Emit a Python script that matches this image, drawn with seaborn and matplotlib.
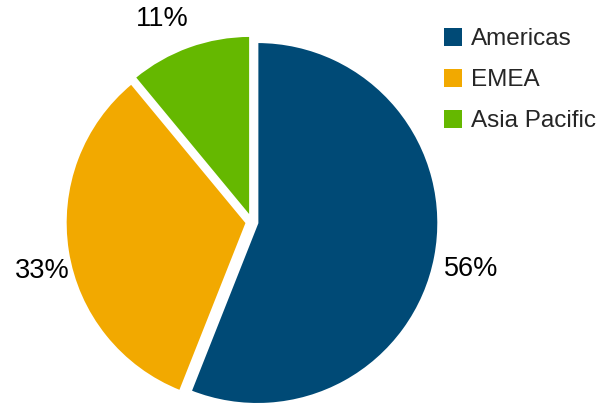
import matplotlib
matplotlib.use("Agg")
import matplotlib.pyplot as plt
import matplotlib.patches as mpatches
import matplotlib.transforms as mtransforms
import seaborn as sns

# Regional revenue split
regions = ["Americas", "EMEA", "Asia Pacific"]
shares = [56, 33, 11]
colors = ["#004A76", "#F2A900", "#65B800"]

sns.set_theme(style="white")
plt.rcParams["font.family"] = ["Liberation Sans", "DejaVu Sans"]
palette = sns.color_palette(colors)

W, H = 598, 408
fig = plt.figure(figsize=(W / 100, H / 100), dpi=100)
fig.patch.set_facecolor("white")

# Pie centre and radius in pixels; axes sized so one data unit = radius
cx, cy, r = 252, H - 222, 181
lim = 1.25
half = lim * r
ax = fig.add_axes([(cx - half) / W, (cy - half) / H, 2 * half / W, 2 * half / H])

wedges, _, autotexts = ax.pie(
    shares,
    colors=palette,
    startangle=90,
    counterclock=False,
    explode=[0.03, 0.03, 0.03],
    autopct=lambda p: f"{p:.0f}%",
    pctdistance=1.2,
    wedgeprops=dict(edgecolor="white", linewidth=1.5),
    textprops=dict(fontsize=19.5, color="black"),
)
ax.set_xlim(-lim, lim)
ax.set_ylim(-lim, lim)
ax.set_aspect("equal")
ax.axis("off")

# Small nudges (in pixels) to the percentage labels
nudges = [(0, -5), (10, -14), (-14, -6)]
for t, (dx, dy) in zip(autotexts, nudges):
    t.set_transform(mtransforms.offset_copy(ax.transData, fig=fig, x=dx, y=dy, units="dots"))

handles = [mpatches.Patch(facecolor=c, edgecolor="none", label=l) for c, l in zip(palette, regions)]
fig.legend(
    handles=handles,
    loc="upper left",
    bbox_to_anchor=(444 / W, 1 - 28 / H),
    frameon=False,
    fontsize=17.5,
    handlelength=0.75,
    handleheight=0.75,
    handletextpad=0.35,
    labelspacing=0.76,
    borderpad=0,
    borderaxespad=0,
)

fig.savefig("out.png", dpi=100, facecolor="white")
